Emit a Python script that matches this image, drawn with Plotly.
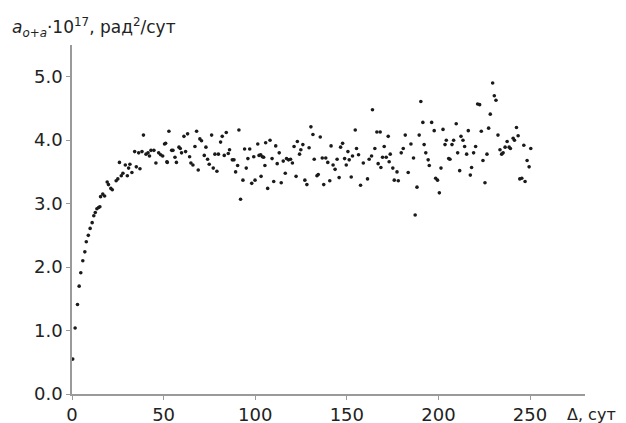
import plotly.graph_objects as go

# Delta, days
x_days = [
    0.4, 1.7, 3.0, 3.9, 4.8, 5.9, 7.0, 7.8, 8.9, 9.9, 11.0, 11.9, 12.7, 13.6, 14.5, 15.2,
    15.6, 16.8, 17.8, 19.2, 19.9, 21.2, 22.0, 24.1, 25.0, 25.9, 26.9, 27.8, 29.1, 30.2,
    30.9, 31.6, 32.7, 34.2, 35.1, 36.4, 37.1, 38.2, 39.0, 40.4, 41.5, 42.3, 43.1, 44.7,
    45.8, 47.3, 48.4, 49.5, 50.5, 51.1, 51.8, 52.0, 52.9,
    54.4, 55.1, 56.2, 57.0, 58.4, 59.1, 59.8, 61.1, 62.0, 63.1, 64.2, 64.9, 66.0, 67.1,
    68.0, 68.9, 69.8, 70.7, 72.2, 73.1, 74.0, 74.9, 76.2, 77.1, 78.0, 79.1, 79.9, 81.1,
    82.0, 83.1, 84.2, 85.3, 86.0, 87.5, 88.4, 89.3, 90.4, 91.1, 92.0, 93.3, 94.2, 95.1,
    96.0, 97.0, 98.1, 99.2, 99.9, 101.4, 102.1, 103.0, 103.2, 103.9, 104.6, 105.3, 105.7,
    106.8, 108.1, 109.2, 110.1, 111.2, 112.0, 113.1, 114.2, 115.3, 116.4, 117.1, 118.2,
    119.3, 120.3, 121.2, 122.3, 123.0, 124.2, 124.9, 126.0, 127.1, 128.2, 129.4, 130.4,
    131.5, 132.2, 133.7, 134.4, 135.5, 136.6, 137.4, 138.5, 139.6, 140.7, 141.4, 142.5,
    143.6, 144.7, 145.8, 146.6, 147.7, 148.8, 149.7, 150.6, 151.3, 152.4, 153.1, 154.6,
    155.3, 156.4, 157.5,
    159.0, 161.3, 162.2, 163.5, 164.0, 165.3, 166.4, 167.1, 168.2, 168.6, 169.5, 170.4,
    171.5, 172.6, 173.1, 173.7, 175.1, 175.9, 177.4, 178.1, 179.7, 180.8, 181.9, 183.5,
    185.0, 186.4, 187.3, 188.3, 189.5, 190.4, 191.5, 192.2, 193.1, 194.4, 195.0, 196.3,
    197.7, 198.5, 199.5, 200.5, 201.4, 202.5, 203.6, 204.3, 205.6, 206.3, 207.4, 208.3,
    209.7, 210.5, 211.6, 212.3, 213.4, 214.3, 215.4, 216.3, 217.4, 218.1, 219.2, 220.3,
    221.4, 222.5, 223.4, 224.3, 225.4, 226.5, 227.4, 228.3, 229.6, 230.5, 231.4, 232.5,
    233.6, 234.5, 235.3, 236.4, 237.5, 238.6, 239.3, 240.8, 241.5, 242.6, 243.5, 244.4,
    245.5, 246.6, 247.3, 248.4, 249.5, 250.4,
]

# a_{o+a} * 1e17, rad^2/day
y_vals = [
    0.55, 1.04, 1.41, 1.70, 1.91, 2.10, 2.24, 2.40, 2.50, 2.61, 2.70, 2.81, 2.86, 2.92, 2.94, 2.95,
    3.11, 3.15, 3.12, 3.34, 3.30, 3.24, 3.22, 3.36, 3.39, 3.65, 3.44, 3.48, 3.61, 3.44,
    3.56, 3.62, 3.49, 3.82, 3.58, 3.80, 3.55, 3.82, 4.08, 3.78, 3.80, 3.75, 3.84, 3.84,
    3.64, 3.80, 3.77, 3.75, 3.94, 3.95, 3.66, 3.65, 4.14,
    3.84, 3.84, 3.73, 3.65, 3.89, 3.87, 3.80, 4.06, 3.82, 4.10, 3.74, 3.64, 3.61, 3.90,
    4.14, 3.53, 4.02, 3.99, 3.76, 3.89, 3.70, 3.62, 4.08, 3.56, 3.78, 3.51, 3.78, 3.97,
    4.06, 3.76, 4.12, 3.79, 3.85, 3.69, 3.69, 3.50, 3.60, 4.16, 3.07, 3.37, 3.86, 3.56,
    3.71, 3.86, 3.32, 3.74, 3.37, 3.94, 3.76, 3.77, 3.43, 3.74, 3.73, 3.60, 3.96,
    3.24, 4.00, 3.71, 3.35, 3.91, 3.63, 3.80, 3.33, 3.67, 3.48, 3.71, 3.69,
    3.70, 3.64, 3.90, 3.43, 3.98, 3.78, 3.85, 3.93, 3.37, 3.30, 3.88, 4.21,
    4.09, 3.70, 3.44, 3.46, 4.05, 3.72, 3.30, 3.72, 3.65, 3.36, 3.91, 3.61,
    3.54, 3.70, 3.41, 3.89, 3.95, 3.71, 3.61, 3.82, 3.69, 3.42, 3.75, 4.16,
    3.87, 3.77, 3.29,
    3.64, 3.39, 3.70, 3.75, 4.48, 3.87, 4.13, 3.63, 4.13, 3.57, 3.73, 3.90,
    3.73, 4.06, 3.66, 3.78, 3.56, 3.37, 3.50, 3.36, 3.80, 3.87, 4.08, 3.49,
    3.94, 3.72, 2.82, 3.26, 4.08, 4.61, 4.28, 3.93, 3.80, 3.69, 3.60, 4.28,
    4.15, 3.40, 3.37, 3.17, 3.56, 4.17, 3.93, 4.00, 3.71, 3.70, 3.93, 4.00,
    4.26, 3.80, 3.52, 4.06, 4.00, 3.90, 3.78, 4.15, 3.45, 3.57, 3.80, 3.90,
    4.57, 4.56, 4.14, 3.68, 3.33, 3.78, 4.19, 4.41, 4.90, 4.70, 4.63, 4.08,
    3.85, 3.78, 3.80, 3.89, 3.98, 3.89, 3.87, 4.03, 4.00, 4.20, 4.07, 3.39,
    3.40, 3.92, 3.35, 3.68, 3.58, 3.87,
]

x_ticks = [0, 50, 100, 150, 200, 250]
y_ticks = [0.0, 1.0, 2.0, 3.0, 4.0, 5.0]

FONT = "DejaVu Sans, Arial, sans-serif"
AXIS_COLOR = "#9a9a9a"
TEXT_COLOR = "#222222"

fig = go.Figure()
fig.add_trace(go.Scatter(
    x=x_days, y=y_vals, mode="markers",
    marker=dict(size=3.6, color="#1a1a1a"),
    cliponaxis=False, showlegend=False,
))

axis_common = dict(
    showgrid=False, zeroline=False, showline=True, automargin=False,
    linecolor=AXIS_COLOR, linewidth=1.5,
    ticks="outside", ticklen=4, tickcolor=AXIS_COLOR, tickwidth=1,
    tickfont=dict(family=FONT, size=18, color=TEXT_COLOR),
)

# the page body adds an 8px offset, so the figure is sized 618x415
fig.update_layout(
    width=618, height=415,
    margin=dict(l=64, r=41, t=37, b=29, autoexpand=False),
    paper_bgcolor="white", plot_bgcolor="white",
    font=dict(family=FONT, size=18, color=TEXT_COLOR),
    xaxis=dict(range=[0, 280], tickvals=x_ticks,
               ticktext=[str(v) for v in x_ticks], **axis_common),
    yaxis=dict(range=[0, 5.5], tickvals=y_ticks,
               ticktext=[f"{v:.1f}" for v in y_ticks], **axis_common),
    annotations=[
        dict(
            text="<i>a</i><sub><i>o+a</i></sub>·10<sup>17</sup>, рад<sup>2</sup>/сут",
            xref="paper", yref="paper", x=-0.121, y=1.049,
            xanchor="left", yanchor="middle", showarrow=False,
            font=dict(family=FONT, size=17, color=TEXT_COLOR),
        ),
        dict(
            text="Δ, сут",
            xref="paper", yref="paper", x=0.961, y=-0.058,
            xanchor="left", yanchor="middle", showarrow=False,
            font=dict(family=FONT, size=16, color=TEXT_COLOR),
        ),
    ],
)

fig.write_html("out.html")
